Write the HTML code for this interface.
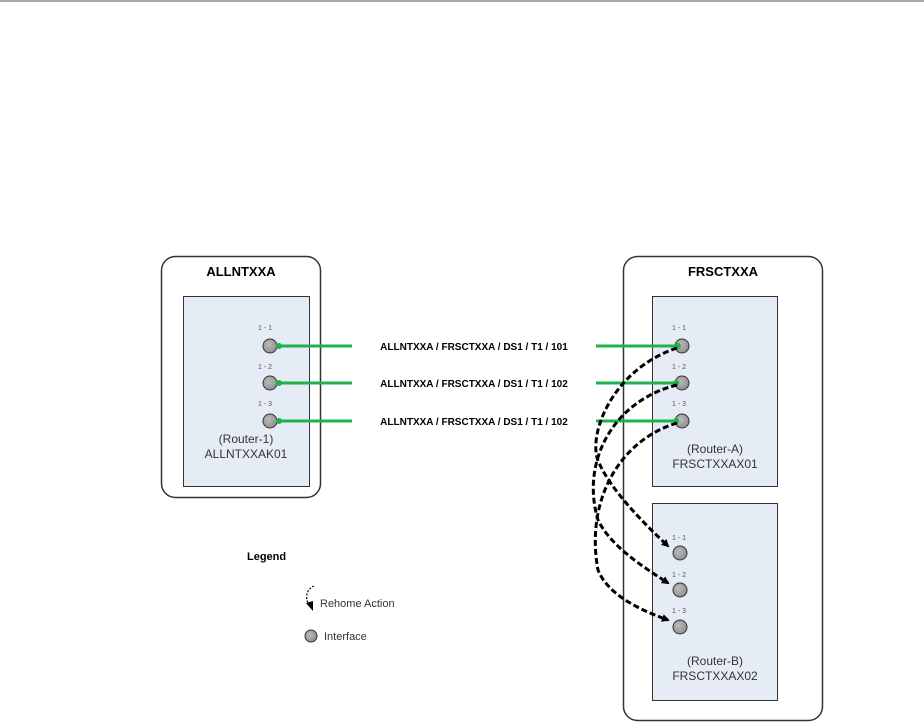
<!DOCTYPE html>
<html><head><style>
body{margin:0;background:#fff}
svg{display:block;font-family:"Liberation Sans",Arial,sans-serif}
</style></head><body>
<svg width="924" height="723" viewBox="0 0 924 723" xmlns="http://www.w3.org/2000/svg">
<defs>
<marker id="ah" markerWidth="8" markerHeight="8" refX="6" refY="4" orient="auto" markerUnits="userSpaceOnUse" viewBox="0 0 8 8">
<path d="M0,0 L8,4 L0,8 z" fill="#000"/></marker>
<radialGradient id="cg" cx="0.4" cy="0.4" r="0.7"><stop offset="0" stop-color="#bbb"/><stop offset="1" stop-color="#8a8a8a"/></radialGradient>
</defs>
<line x1="0" y1="1" x2="924" y2="1" stroke="#555" stroke-width="1"/>
<rect x="161.5" y="256.5" width="159" height="241" rx="14" fill="#fff" stroke="#333" stroke-width="1.5"/>
<text x="241" y="276" text-anchor="middle" font-size="13" font-weight="bold">ALLNTXXA</text>
<rect x="183.5" y="296.5" width="126" height="190" fill="#e6ecf6" stroke="#333"/>
<text x="246" y="443" text-anchor="middle" font-size="12" fill="#333">(Router-1)</text>
<text x="246" y="458" text-anchor="middle" font-size="12" fill="#333">ALLNTXXAK01</text>
<rect x="623.5" y="256.5" width="199" height="464" rx="14" fill="#fff" stroke="#333" stroke-width="1.5"/>
<text x="723" y="276" text-anchor="middle" font-size="13" font-weight="bold">FRSCTXXA</text>
<rect x="652.5" y="296.5" width="125" height="190" fill="#e6ecf6" stroke="#333"/>
<text x="715" y="453" text-anchor="middle" font-size="12" fill="#333">(Router-A)</text>
<text x="715" y="468" text-anchor="middle" font-size="12" fill="#333">FRSCTXXAX01</text>
<rect x="652.5" y="503.5" width="125" height="197" fill="#e6ecf6" stroke="#333"/>
<text x="715" y="665" text-anchor="middle" font-size="12" fill="#333">(Router-B)</text>
<text x="715" y="680" text-anchor="middle" font-size="12" fill="#333">FRSCTXXAX02</text>
<g font-size="7" fill="#555" text-anchor="middle">
<text x="265" y="330">1 - 1</text><text x="265" y="369">1 - 2</text><text x="265" y="406">1 - 3</text>
<text x="679" y="330">1 - 1</text><text x="679" y="369">1 - 2</text><text x="679" y="406">1 - 3</text>
<text x="679" y="540">1 - 1</text><text x="679" y="577">1 - 2</text><text x="679" y="613">1 - 3</text>
</g>
<g fill="url(#cg)" stroke="#333" stroke-width="1">
<circle cx="270" cy="346" r="7"/><circle cx="270" cy="383" r="7"/><circle cx="270" cy="421" r="7"/>
<circle cx="682" cy="346" r="7"/><circle cx="682" cy="383" r="7"/><circle cx="682" cy="421" r="7"/>
<circle cx="680" cy="553" r="7"/><circle cx="680" cy="590" r="7"/><circle cx="680" cy="627" r="7"/>
<circle cx="311" cy="636" r="6"/>
</g>
<g stroke="#1db34a" stroke-width="3">
<line x1="278" y1="346" x2="352" y2="346"/><line x1="596" y1="346" x2="678" y2="346"/>
<line x1="278" y1="383" x2="352" y2="383"/><line x1="596" y1="383" x2="676" y2="383"/>
<line x1="278" y1="421" x2="352" y2="421"/><line x1="596" y1="421" x2="676" y2="421"/>
</g>
<g fill="#1db34a"><circle cx="279" cy="346" r="3"/><circle cx="279" cy="383" r="3"/><circle cx="279" cy="421" r="3"/><circle cx="678" cy="346" r="3"/><circle cx="676" cy="383" r="3"/><circle cx="676" cy="421" r="3"/></g>
<g font-size="10" font-weight="bold" text-anchor="middle">
<text x="474" y="350">ALLNTXXA / FRSCTXXA / DS1 / T1 / 101</text>
<text x="474" y="387">ALLNTXXA / FRSCTXXA / DS1 / T1 / 102</text>
<text x="474" y="425">ALLNTXXA / FRSCTXXA / DS1 / T1 / 102</text>
</g>
<g fill="none" stroke="#000" stroke-width="3" stroke-dasharray="6,3" marker-end="url(#ah)">
<path d="M677,348 C610,370 585,440 600,465 C612,490 640,520 668,546"/>
<path d="M677,385 C615,400 580,460 598,520 C610,545 640,565 668,583"/>
<path d="M677,423 C620,440 585,500 598,570 C608,595 640,610 668,620"/>
</g>
<text x="247" y="560" font-size="11" font-weight="bold">Legend</text>
<path d="M314,586 C305,590 305,600 310,606" fill="none" stroke="#000" stroke-width="1.2" stroke-dasharray="2,1.5"/>
<path d="M306,603 L313,611 L313,601 z" fill="#000"/>
<text x="320" y="607" font-size="11" fill="#333">Rehome Action</text>
<text x="324" y="640" font-size="11" fill="#333">Interface</text>
</svg>
</body></html>
